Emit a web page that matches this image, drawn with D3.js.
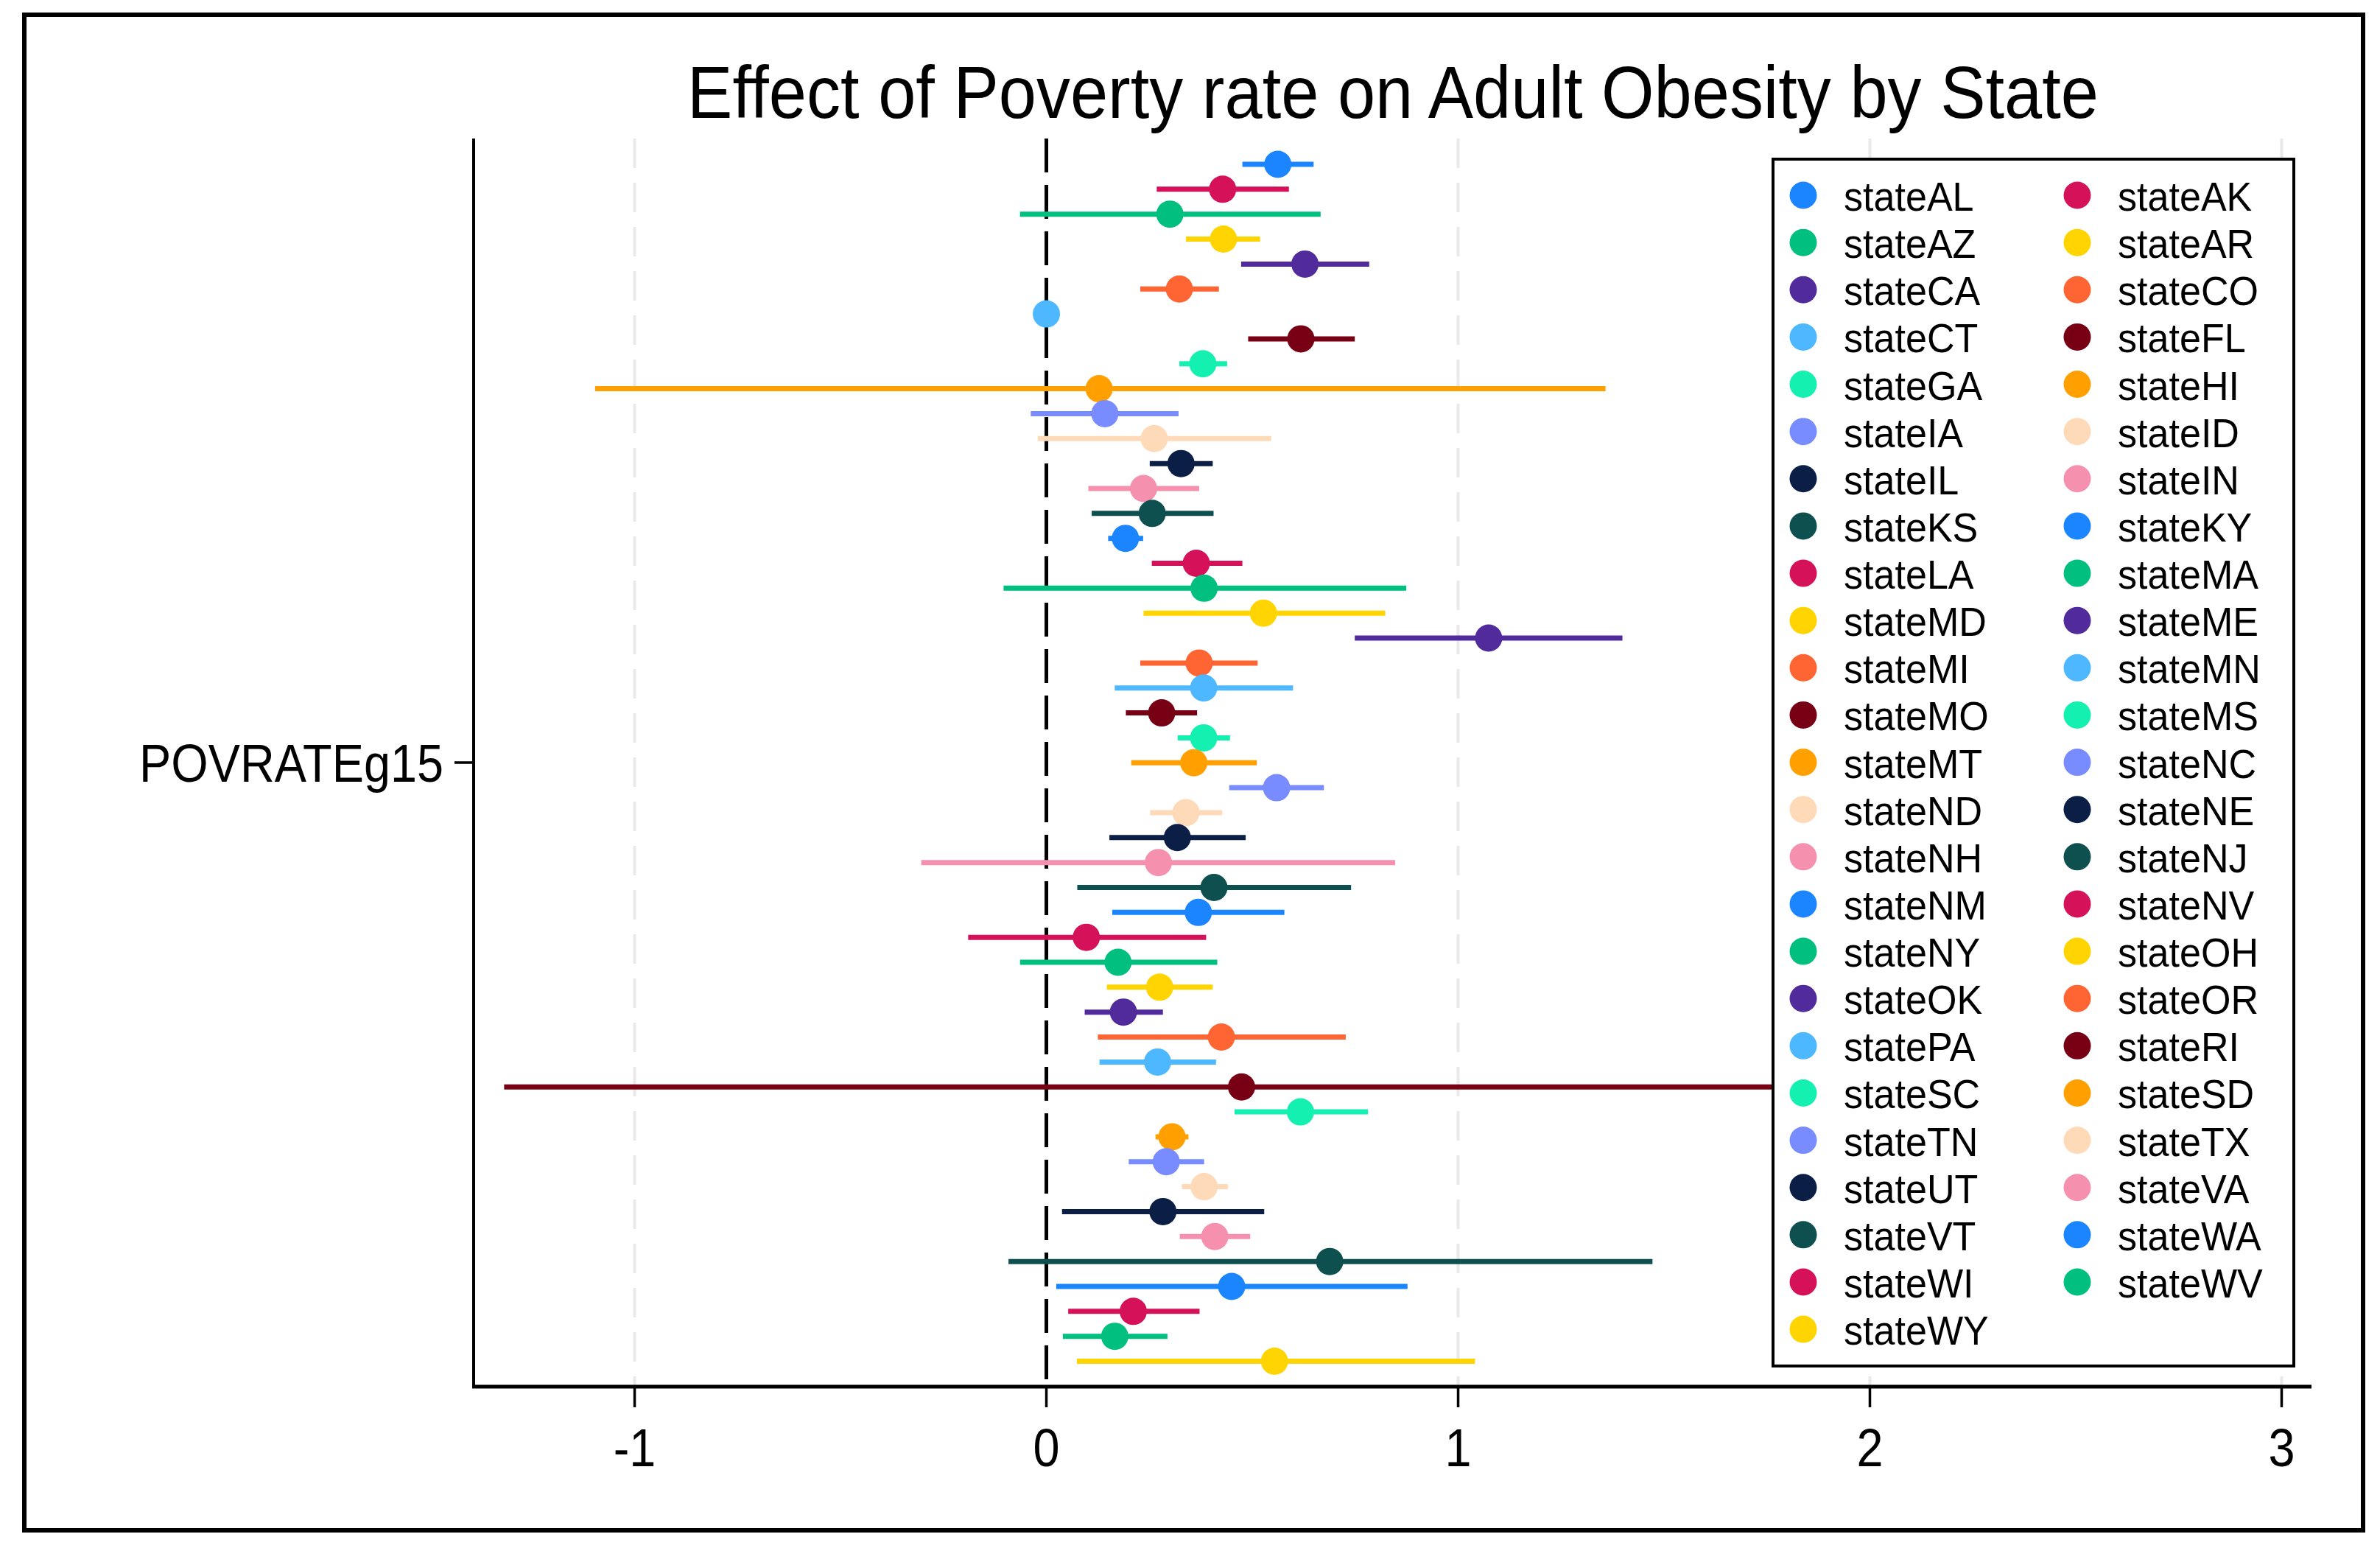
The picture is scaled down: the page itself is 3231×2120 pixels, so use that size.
<!DOCTYPE html>
<html>
<head>
<meta charset="utf-8">
<script src="https://cdn.jsdelivr.net/npm/d3@7"></script>
<style>
  body { margin: 0; background: #fff; }
  text { font-family: "Liberation Sans", Arial, sans-serif; fill: #000; }
</style>
</head>
<body>
<script>
// state codes, in plot order
var states = ["AL","AK","AZ","AR","CA","CO","CT","FL","GA","HI","IA","ID","IL","IN","KS","KY","LA","MA","MD","ME",
  "MI","MN","MO","MS","MT","NC","ND","NE","NH","NJ","NM","NV","NY","OH","OK","OR","PA","RI","SC","SD",
  "TN","TX","UT","VA","VT","WA","WI","WV","WY"];

// point estimates
var coef = [0.562,0.428,0.300,0.430,0.628,0.323,0.0,0.618,0.380,0.128,0.142,0.262,0.327,0.236,0.257,0.192,0.364,0.383,0.527,1.074,
  0.371,0.382,0.280,0.382,0.358,0.559,0.339,0.318,0.272,0.407,0.369,0.097,0.174,0.275,0.187,0.425,0.270,0.474,0.617,0.305,
  0.291,0.383,0.283,0.409,0.688,0.450,0.211,0.166,0.554];

// lower / upper confidence bounds
var ciLow = [0.476,0.268,-0.064,0.339,0.473,0.228,0.0,0.490,0.323,-1.096,-0.038,-0.021,0.251,0.102,0.110,0.150,0.256,-0.104,0.236,0.749,
  0.228,0.166,0.193,0.319,0.206,0.444,0.252,0.153,-0.304,0.075,0.160,-0.190,-0.064,0.147,0.093,0.125,0.129,-1.317,0.457,0.265,
  0.200,0.329,0.038,0.324,-0.092,0.024,0.053,0.040,0.074];
var ciHigh = [0.649,0.589,0.666,0.519,0.784,0.419,0.0,0.749,0.439,1.358,0.321,0.546,0.404,0.371,0.406,0.235,0.476,0.874,0.823,1.399,
  0.513,0.599,0.366,0.446,0.511,0.674,0.427,0.484,0.847,0.740,0.578,0.388,0.415,0.404,0.283,0.727,0.412,2.270,0.781,0.345,
  0.383,0.441,0.529,0.495,1.472,0.877,0.372,0.294,1.041];

var xTicks = [-1, 0, 1, 2, 3];
var palette = ["#1a85ff","#d41159","#00bf7f","#ffd400","#512b9c","#ff6433","#4db8ff","#780014",
  "#14f0b0","#ffa000","#788cff","#ffdab9","#0a1e46","#f591af","#0e5050"];

var rows = states.map(function(s, i){
  return { name: "state" + s, b: coef[i], lo: ciLow[i], hi: ciHigh[i], color: palette[i % palette.length] };
});

var svg = d3.select("body").append("svg")
  .attr("width", 3231)
  .attr("height", 2120);

svg.append("rect").attr("width", 3231).attr("height", 2120).attr("fill", "#fff");

// outer frame
svg.append("rect")
  .attr("x", 33).attr("y", 20).attr("width", 3175).attr("height", 2057)
  .attr("fill", "none").attr("stroke", "#000").attr("stroke-width", 6);

var x = d3.scaleLinear().domain([-1.391, 3.0725]).range([643, 3138]);
var y = d3.scalePoint().domain(rows.map(function(d){ return d.name; })).range([223, 1847.5]);

var plotTop = 188, plotBottom = 1882;

// condensed text helper
function label(g, tx, ty, str, size, anchor, sx) {
  return g.append("g")
    .attr("transform", "translate(" + tx + "," + ty + ") scale(" + sx + ",1)")
    .append("text")
    .attr("text-anchor", anchor)
    .attr("font-size", size)
    .text(str);
}

// title
label(svg, 1891, 160, "Effect of Poverty rate on Adult Obesity by State", 100, "middle", 0.92);

// gridlines
svg.selectAll("line.grid")
  .data(xTicks.filter(function(t){ return t !== 0; }))
  .enter().append("line")
  .attr("class", "grid")
  .attr("x1", function(d){ return x(d); }).attr("x2", function(d){ return x(d); })
  .attr("y1", plotTop).attr("y2", plotBottom)
  .attr("stroke", "#e9e9e9").attr("stroke-width", 4)
  .attr("stroke-dasharray", "40,20");

// zero reference line
svg.append("line")
  .attr("x1", x(0)).attr("x2", x(0))
  .attr("y1", plotTop).attr("y2", plotBottom)
  .attr("stroke", "#000").attr("stroke-width", 5)
  .attr("stroke-dasharray", "46,17");

// CI + marker per state
var series = svg.selectAll("g.state")
  .data(rows)
  .enter().append("g")
  .attr("class", "state");

series.append("line")
  .attr("x1", function(d){ return x(d.lo); })
  .attr("x2", function(d){ return x(d.hi); })
  .attr("y1", function(d){ return y(d.name); })
  .attr("y2", function(d){ return y(d.name); })
  .attr("stroke", function(d){ return d.color; })
  .attr("stroke-width", 7);

series.append("circle")
  .attr("cx", function(d){ return x(d.b); })
  .attr("cy", function(d){ return y(d.name); })
  .attr("r", 18.5)
  .attr("fill", function(d){ return d.color; });

// axes
svg.append("line")
  .attr("x1", 643).attr("x2", 643).attr("y1", plotTop).attr("y2", plotBottom + 2)
  .attr("stroke", "#000").attr("stroke-width", 4);
svg.append("line")
  .attr("x1", 641).attr("x2", 3138).attr("y1", plotBottom).attr("y2", plotBottom)
  .attr("stroke", "#000").attr("stroke-width", 5);

svg.selectAll("line.xtick")
  .data(xTicks).enter().append("line")
  .attr("class", "xtick")
  .attr("x1", function(d){ return x(d); }).attr("x2", function(d){ return x(d); })
  .attr("y1", plotBottom).attr("y2", plotBottom + 28)
  .attr("stroke", "#000").attr("stroke-width", 3.5);

xTicks.forEach(function(t){
  label(svg, x(t), 1990, String(t), 72, "middle", 0.9);
});

// y axis single label
svg.append("line")
  .attr("x1", 617).attr("x2", 643).attr("y1", 1035).attr("y2", 1035)
  .attr("stroke", "#000").attr("stroke-width", 3.5);
label(svg, 602, 1061, "POVRATEg15", 72, "end", 0.9);

// legend
var legend = svg.append("g");
legend.append("rect")
  .attr("x", 2407).attr("y", 216).attr("width", 707).attr("height", 1638)
  .attr("fill", "#fff").attr("stroke", "#000").attr("stroke-width", 4);

var items = legend.selectAll("g.item")
  .data(rows)
  .enter().append("g")
  .attr("class", "item")
  .attr("transform", function(d, i){
    return "translate(" + (2448 + (i % 2) * 372) + "," + (265 + Math.floor(i / 2) * 64.13) + ")";
  });

items.append("circle")
  .attr("r", 18.5)
  .attr("fill", function(d){ return d.color; });

items.append("g")
  .attr("transform", "translate(55,21) scale(0.93,1)")
  .append("text")
  .attr("font-size", 56)
  .text(function(d){ return d.name; });
</script>
</body>
</html>
